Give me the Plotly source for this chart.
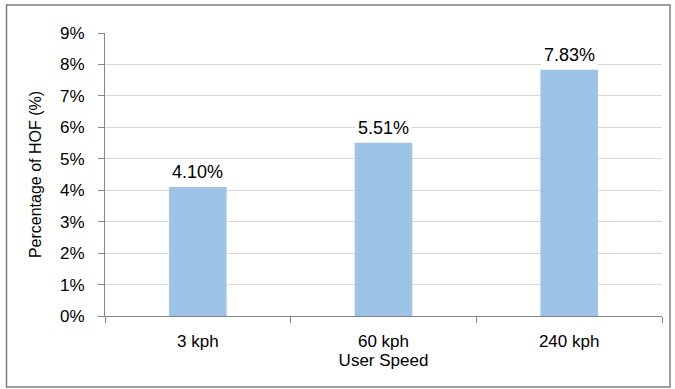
import plotly.graph_objects as go

# Handover-failure percentage by user speed
speeds = ["3 kph", "60 kph", "240 kph"]
hof_pct = [4.10, 5.51, 7.83]
y_ticks = [0, 1, 2, 3, 4, 5, 6, 7, 8, 9]

values = [v / 100 for v in hof_pct]

FONT = "Liberation Sans, Arial, sans-serif"
AXIS_GREY = "#868686"

fig = go.Figure(
    go.Bar(
        x=speeds,
        y=values,
        width=0.31,
        marker=dict(color="#9DC3E6", line=dict(width=0)),
        hoverinfo="skip",
    )
)

# Value labels above each bar, on a white patch that hides the gridlines
for s, v, p in zip(speeds, values, hof_pct):
    fig.add_annotation(
        x=s, y=v, text=f"{p:.2f}%", showarrow=False,
        yanchor="bottom", yshift=2,
        bgcolor="white", borderpad=2,
        font=dict(family=FONT, size=18, color="#000000"),
    )

# Outer chart frame
L, R, T, B = 105, 13, 33, 73
W, H = 675, 389
pw, ph = W - L - R, H - T - B
fig.add_shape(
    type="rect", xref="paper", yref="paper",
    x0=(6.5 - L) / pw, x1=(670 - L) / pw,
    y0=(H - B - 387) / ph, y1=(H - B - 5) / ph,
    line=dict(color="#7f7f7f", width=1.5),
    fillcolor="rgba(0,0,0,0)", layer="below",
)

fig.update_layout(
    width=W, height=H,
    margin=dict(l=L, r=R, t=T, b=B, pad=0),
    paper_bgcolor="white", plot_bgcolor="white",
    showlegend=False,
    font=dict(family=FONT, color="#000000"),
    xaxis=dict(
        type="category",
        showline=True, linecolor=AXIS_GREY, linewidth=1,
        ticks="outside", tickson="boundaries", ticklen=6,
        tickcolor=AXIS_GREY, tickfont=dict(size=17),
        ticklabelstandoff=10,
        showgrid=False,
        title=dict(text="User Speed", font=dict(size=17), standoff=3),
    ),
    yaxis=dict(
        range=[0, 0.09],
        tickvals=[t / 100 for t in y_ticks],
        ticktext=[f"{t}%" for t in y_ticks],
        showline=True, linecolor=AXIS_GREY, linewidth=1,
        ticks="outside", ticklen=6, tickcolor=AXIS_GREY,
        tickfont=dict(size=17), ticklabelstandoff=10,
        showgrid=True, gridcolor="#d9d9d9", gridwidth=1,
        zeroline=False,
        title=dict(text="Percentage of HOF (%)", font=dict(size=16), standoff=14),
    ),
)

fig.write_html("out.html")
